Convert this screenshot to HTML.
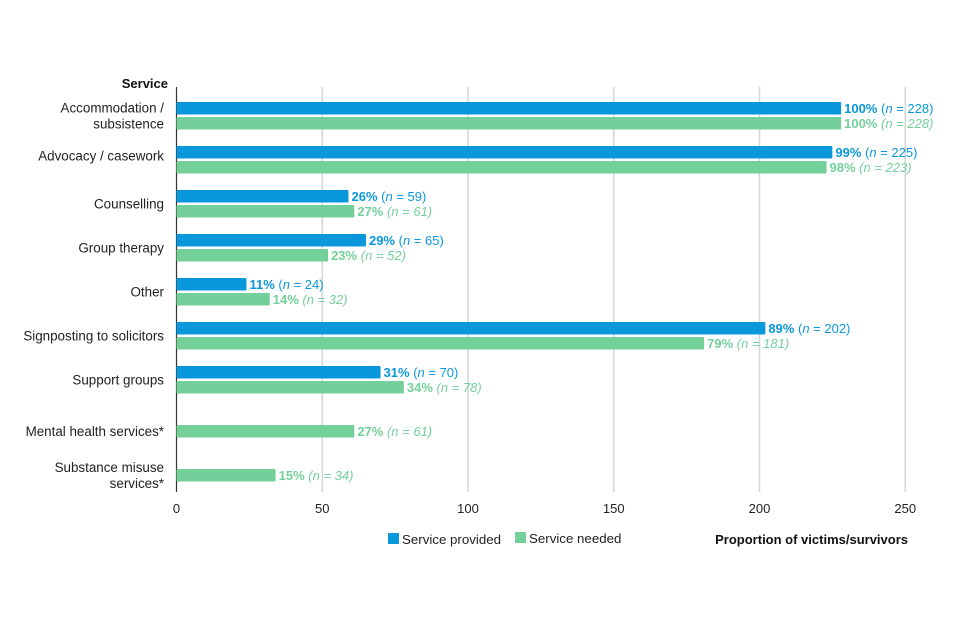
<!DOCTYPE html>
<html><head><meta charset="utf-8"><style>
body{margin:0;background:#fff;}
svg{display:block;font-family:"Liberation Sans",Arial,sans-serif;}
</style></head><body>
<svg id="chart" width="960" height="640"></svg>
<script>
const categories=[["Accommodation /","subsistence"],["Advocacy / casework"],["Counselling"],["Group therapy"],["Other"],["Signposting to solicitors"],["Support groups"],["Mental health services*"],["Substance misuse","services*"]];
const provided=[228,225,59,65,24,202,70,null,null];
const providedPct=[100,99,26,29,11,89,31,null,null];
const needed=[228,223,61,52,32,181,78,61,34];
const neededPct=[100,98,27,23,14,79,34,27,15];
const ticks=[0,50,100,150,200,250];
const NS="http://www.w3.org/2000/svg";
const svg=document.getElementById('chart');
const x0=176.5,ppu=2.915,top0=102,step=44,bh=12.5,gOff=15;
const X=v=>x0+v*ppu;
const BLUE="#0a98dc",GREEN="#73d09b";
function mk(tag,attrs,parent){const e=document.createElementNS(NS,tag);for(const k in attrs)e.setAttribute(k,attrs[k]);(parent||svg).appendChild(e);return e;}
ticks.forEach(t=>{
  if(t>0){const g=mk('line',{x1:X(t),x2:X(t),y1:87,y2:492,stroke:'#d6d6d6','stroke-width':1.5});
  
  }
  const l=mk('text',{x:X(t),y:513,'text-anchor':'middle','font-size':13,fill:'#222'});l.textContent=t;
  
  
});
const ax=mk('line',{x1:x0,x2:x0,y1:87,y2:492,stroke:'#333','stroke-width':1.2});


const yt=mk('text',{x:168,y:88,'text-anchor':'end','font-size':13,'font-weight':'bold',fill:'#111'});yt.textContent='Service';


function label(x,y,pct,n,color,italic,name){
  const t=mk('text',{x:x,y:y,'font-size':13,fill:color});
  
  
  const a=mk('tspan',{'font-weight':'bold'},t);a.textContent=pct+'% ';
  const b=mk('tspan',{'font-style':italic?'italic':'normal'},t);b.textContent='(';
  const c=mk('tspan',{'font-style':'italic'},t);c.textContent='n';
  const d=mk('tspan',{'font-style':italic?'italic':'normal'},t);d.textContent=' = '+n+')';
}
categories.forEach((c,i)=>{
  const yb=top0+i*step, yg=yb+gOff;
  let mid=provided[i]==null ? yg+bh/2 : yb+(bh+gOff)/2;
  if(i===1) mid-=4;
  const lines=c.length;
  c.forEach((s,j)=>{const t=mk('text',{x:164,y:mid+4.5+(j-(lines-1)/2)*16,'text-anchor':'end','font-size':13.4,fill:'#222'});t.textContent=s;
    
    });
  if(provided[i]!=null){
    const r=mk('rect',{x:x0,y:yb,width:X(provided[i])-x0,height:bh,fill:BLUE,rx:1});
    
    
    label(X(provided[i])+3,yb+11,providedPct[i],provided[i],BLUE,false,'value-label-provided');
  }
  if(needed[i]!=null){
    const r=mk('rect',{x:x0,y:yg,width:X(needed[i])-x0,height:bh,fill:GREEN,rx:1});
    
    
    label(X(needed[i])+3,yg+11,neededPct[i],needed[i],GREEN,true,'value-label-needed');
  }
});
const l1=mk('rect',{x:388,y:533,width:11,height:11,fill:BLUE});


const t1=mk('text',{x:402,y:544,'font-size':13.3,fill:'#222'});t1.textContent='Service provided';


const l2=mk('rect',{x:515,y:532,width:11,height:11,fill:GREEN});


const t2=mk('text',{x:529,y:543,'font-size':13.3,fill:'#222'});t2.textContent='Service needed';


const xt=mk('text',{x:908,y:544,'text-anchor':'end','font-size':13,'font-weight':'bold',fill:'#111'});xt.textContent='Proportion of victims/survivors';


</script>
</body></html>
